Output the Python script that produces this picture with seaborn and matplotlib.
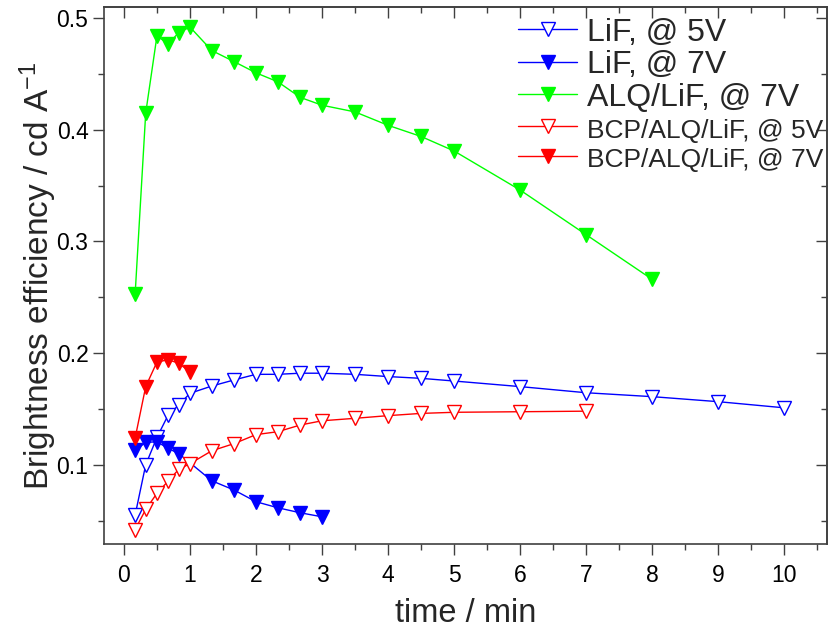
import pandas as pd
import seaborn as sns
import matplotlib.pyplot as plt
from matplotlib.ticker import MultipleLocator

# time in min, brightness efficiency in cd/A
t_lif5 = [0.17, 0.33, 0.5, 0.67, 0.83, 1, 1.33, 1.67, 2, 2.33, 2.67, 3,
          3.5, 4, 4.5, 5, 6, 7, 8, 9, 10]
eff_lif5 = [0.055, 0.100, 0.1245, 0.1445, 0.1535, 0.164, 0.1705, 0.176, 0.181,
            0.181, 0.182, 0.182, 0.181, 0.179, 0.1774, 0.175, 0.170, 0.1645,
            0.161, 0.1565, 0.151]

t_lif7 = [0.17, 0.33, 0.5, 0.67, 0.83, 1.33, 1.67, 2, 2.33, 2.67, 3]
eff_lif7 = [0.113, 0.120, 0.1206, 0.1147, 0.110, 0.0857, 0.0773, 0.0669,
            0.0615, 0.057, 0.0534]

t_alq7 = [0.17, 0.33, 0.5, 0.67, 0.83, 1, 1.33, 1.67, 2, 2.33, 2.67, 3,
          3.5, 4, 4.5, 5, 6, 7, 8]
eff_alq7 = [0.253, 0.415, 0.484, 0.477, 0.487, 0.492, 0.471, 0.461, 0.451,
            0.443, 0.429, 0.422, 0.416, 0.404, 0.394, 0.381, 0.346, 0.306,
            0.266]

t_bcp5 = [0.17, 0.33, 0.5, 0.67, 0.83, 1, 1.33, 1.67, 2, 2.33, 2.67, 3,
          3.5, 4, 4.5, 5, 6, 7]
eff_bcp5 = [0.042, 0.060, 0.0744, 0.0854, 0.0959, 0.101, 0.1125, 0.119,
            0.127, 0.1296, 0.1356, 0.1394, 0.1416, 0.144, 0.146, 0.147,
            0.1475, 0.148]

t_bcp7 = [0.17, 0.33, 0.5, 0.67, 0.83, 1]
eff_bcp7 = [0.124, 0.170, 0.192, 0.194, 0.191, 0.183]

labels = ["LiF, @ 5V", "LiF, @ 7V", "ALQ/LiF, @ 7V",
          "BCP/ALQ/LiF, @ 5V", "BCP/ALQ/LiF, @ 7V"]
colors = ["#0000ff", "#0000ff", "#00ff00", "#ff0000", "#ff0000"]
filled = [False, True, True, False, True]

series = [(t_lif5, eff_lif5), (t_lif7, eff_lif7), (t_alq7, eff_alq7),
          (t_bcp5, eff_bcp5), (t_bcp7, eff_bcp7)]

sns.set_style("ticks")
plt.rcParams['font.family'] = ['Liberation Sans', 'DejaVu Sans']
plt.rcParams['mathtext.default'] = 'regular'

fig = plt.figure(figsize=(8.31, 6.33), dpi=100)
ax = fig.add_axes([0.1248, 0.140, 0.8707, 0.849])

for (t, e), lab, col, fill in zip(series, labels, colors, filled):
    df = pd.DataFrame({"time": t, "eff": e})
    sns.lineplot(data=df, x="time", y="eff", ax=ax, sort=False,
                 estimator=None, color=col, linewidth=1.0, marker="v",
                 markersize=10, markeredgewidth=1.0, markeredgecolor=col,
                 markerfacecolor=col if fill else "white", label=lab)

ax.set_xlim(-0.306, 10.65)
ax.set_ylim(0.0287, 0.510)

ax.xaxis.set_major_locator(MultipleLocator(1))
ax.xaxis.set_minor_locator(MultipleLocator(0.5))
ax.yaxis.set_major_locator(MultipleLocator(0.1))
ax.yaxis.set_minor_locator(MultipleLocator(0.05))
ax.yaxis.set_major_formatter(plt.FormatStrFormatter("%.1f"))

spine_col = "#404040"
for s in ax.spines.values():
    s.set_color(spine_col)
    s.set_linewidth(1.2)

ax.tick_params(which="both", direction="out", bottom=True, left=True,
               colors=spine_col, labelcolor="black", labelsize=16.5, width=1.0)
ax.tick_params(which="major", length=8)
ax.tick_params(which="minor", length=4)
ax.tick_params(axis="x", which="major", pad=6)
ax.tick_params(axis="y", which="major", pad=3)

# top and right ticks point inwards
top = ax.secondary_xaxis("top")
top.xaxis.set_major_locator(MultipleLocator(1))
top.xaxis.set_minor_locator(MultipleLocator(0.5))
top.tick_params(which="both", direction="in", top=True, labeltop=False,
                colors=spine_col, width=1.0)
top.tick_params(which="major", length=8)
top.tick_params(which="minor", length=4)
right = ax.secondary_yaxis("right")
right.yaxis.set_major_locator(MultipleLocator(0.1))
right.yaxis.set_minor_locator(MultipleLocator(0.05))
right.tick_params(which="both", direction="in", right=True, labelright=False,
                  colors=spine_col, width=1.0)
right.tick_params(which="major", length=8)
right.tick_params(which="minor", length=4)
for sec in (top, right):
    for s in sec.spines.values():
        s.set_color(spine_col)
        s.set_linewidth(1.2)

ax.set_xlabel("time / min", fontsize=23.5, labelpad=8)
ax.set_ylabel("Brightness efficiency / cd A$^{-1}$", fontsize=24, labelpad=-2)

leg = ax.legend(loc="upper right", bbox_to_anchor=(1.021, 1.016), frameon=False,
                fontsize=23, handlelength=1.85, handletextpad=0.3,
                labelspacing=0.08, borderaxespad=0.2)
for txt in leg.get_texts()[3:]:
    txt.set_fontsize(19)

fig.savefig("out.png", dpi=100)
